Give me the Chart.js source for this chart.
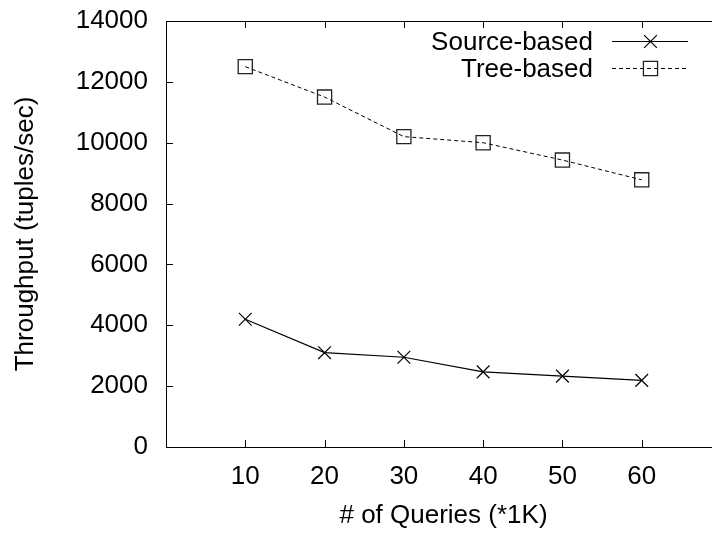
<!DOCTYPE html>
<html>
<head>
<meta charset="utf-8">
<script src="https://cdn.jsdelivr.net/npm/chart.js@4/dist/chart.umd.min.js"></script>
<style>
  html, body { margin: 0; padding: 0; background: #fff; overflow: hidden; }
  #wrap { width: 712px; height: 533px; overflow: hidden; }
  #throughput { display: block; }
</style>
</head>
<body>
<div id="wrap"><canvas id="throughput" width="730" height="533"></canvas></div>
<script>
const queries = [10, 20, 30, 40, 50, 60]
const sourceBased = [4200, 3100, 2950, 2470, 2330, 2190]
const treeBased = [12500, 11500, 10200, 10000, 9430, 8780]
const seriesNames = ['Source-based', 'Tree-based']
const yTicks = [0, 2000, 4000, 6000, 8000, 10000, 12000, 14000]

const FONT = 'Liberation Sans, Arial, Helvetica, sans-serif'
const toPoints = (vals) => vals.map((v, i) => ({ x: queries[i], y: v }))

// gnuplot style: inward ticks, mirrored on top, box frame, legend top right
const gnuplotFrame = {
    id: 'gnuplotFrame',
    afterDraw(chart) {
        const ctx = chart.ctx
        const area = chart.chartArea
        const xs = chart.scales.x
        const ys = chart.scales.y
        const tick = 7

        ctx.save()
        ctx.strokeStyle = '#000'
        ctx.lineWidth = 1
        ctx.beginPath()
        ctx.rect(area.left + 0.5, area.top + 0.5, area.right - area.left, area.bottom - area.top)
        queries.forEach(q => {
            const px = Math.round(xs.getPixelForValue(q)) + 0.5
            ctx.moveTo(px, area.bottom)
            ctx.lineTo(px, area.bottom - tick)
            ctx.moveTo(px, area.top)
            ctx.lineTo(px, area.top + tick)
        })
        yTicks.forEach(t => {
            const py = Math.round(ys.getPixelForValue(t)) + 0.5
            ctx.moveTo(area.left, py)
            ctx.lineTo(area.left + tick, py)
            ctx.moveTo(area.right, py)
            ctx.lineTo(area.right - tick, py)
        })
        ctx.stroke()

        // legend: label on the left, line sample with marker on the right
        ctx.font = '26px ' + FONT
        ctx.fillStyle = '#000'
        ctx.textAlign = 'right'
        ctx.textBaseline = 'middle'
        chart.data.datasets.forEach((ds, i) => {
            const y = 41 + 27 * i + 0.5
            ctx.fillText(ds.label, 593, y + 1)
            ctx.beginPath()
            ctx.setLineDash(ds.borderDash || [])
            ctx.lineWidth = ds.borderWidth
            ctx.strokeStyle = ds.borderColor
            ctx.moveTo(612, y)
            ctx.lineTo(688, y)
            ctx.stroke()
            ctx.setLineDash([])
            ctx.beginPath()
            const cx = 650.5
            if (ds.pointStyle === 'crossRot') {
                const r = ds.pointRadius * Math.SQRT1_2
                ctx.moveTo(cx - r, y - r); ctx.lineTo(cx + r, y + r)
                ctx.moveTo(cx - r, y + r); ctx.lineTo(cx + r, y - r)
            } else {
                const s = ds.pointRadius * Math.SQRT1_2
                ctx.rect(cx - s, y - s, 2 * s, 2 * s)
            }
            ctx.strokeStyle = ds.pointBorderColor
            ctx.lineWidth = ds.pointBorderWidth
            ctx.stroke()
        })
        ctx.restore()
    }
}

new Chart(document.getElementById('throughput').getContext('2d'), {
    type: 'line',
    data: {
        datasets: [{
            label: seriesNames[0],
            data: toPoints(sourceBased),
            borderColor: '#000',
            borderWidth: 1.2,
            pointStyle: 'crossRot',
            pointRadius: 9,
            pointBorderColor: '#000',
            pointBorderWidth: 1.2,
            pointBackgroundColor: 'rgba(0,0,0,0)',
            tension: 0,
            fill: false
        }, {
            label: seriesNames[1],
            data: toPoints(treeBased),
            borderColor: '#000',
            borderWidth: 1,
            borderDash: [4, 3],
            pointStyle: 'rect',
            pointRadius: 10,
            pointBorderColor: '#222',
            pointBorderWidth: 1.3,
            pointBackgroundColor: 'rgba(0,0,0,0)',
            tension: 0,
            fill: false
        }]
    },
    options: {
        responsive: false,
        animation: false,
        // canvas is wider than the page, so the right side of the frame is cut off
        layout: { autoPadding: false, padding: { top: 21, right: 9, left: 0, bottom: 0 } },
        plugins: {
            legend: { display: false },
            tooltip: { enabled: false }
        },
        scales: {
            x: {
                type: 'linear',
                min: 0,
                max: 70,
                grid: { display: false, drawTicks: false },
                border: { display: false },
                afterFit: (scale) => {
                    scale.height = 86
                    scale.paddingLeft = 0
                    scale.paddingRight = 0
                },
                afterBuildTicks: (scale) => { scale.ticks = queries.map(v => ({ value: v })) },
                ticks: {
                    padding: 14,
                    color: '#000',
                    callback: (v) => String(v),
                    font: { size: 26, family: FONT }
                },
                title: {
                    display: true,
                    text: '# of Queries (*1K)',
                    color: '#000',
                    padding: { top: 0, bottom: 2 },
                    font: { size: 26, family: FONT }
                }
            },
            y: {
                min: 0,
                max: 14000,
                grid: { display: false, drawTicks: false },
                border: { display: false },
                afterFit: (scale) => {
                    scale.width = 166
                    scale.paddingTop = 0
                    scale.paddingBottom = 0
                },
                afterBuildTicks: (scale) => { scale.ticks = yTicks.map(v => ({ value: v })) },
                ticks: {
                    padding: 18,
                    color: '#000',
                    callback: (v) => String(v),
                    font: { size: 26, family: FONT }
                },
                title: {
                    display: true,
                    text: 'Throughput (tuples/sec)',
                    color: '#000',
                    padding: { top: 10, bottom: 0 },
                    font: { size: 26, family: FONT }
                }
            }
        }
    },
    plugins: [gnuplotFrame]
})
</script>
</body>
</html>
